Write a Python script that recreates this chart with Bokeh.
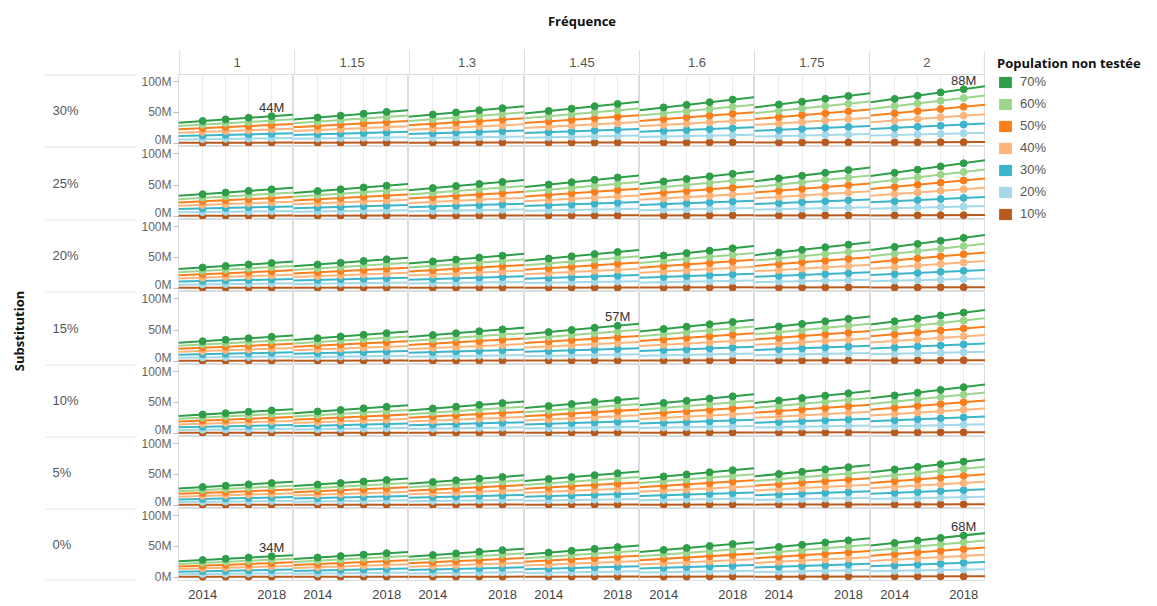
import numpy as np
from bokeh.plotting import figure
from bokeh.layouts import row, column
from bokeh.models import (Range1d, FixedTicker, LinearAxis, Grid, PrintfTickFormatter,
                          Legend, LegendItem)
from bokeh.core.properties import value
from bokeh.embed import file_html
from bokeh.resources import INLINE

# ---------------- data ----------------
frequences = ["1", "1.15", "1.3", "1.45", "1.6", "1.75", "2"]
substitutions = ["30%", "25%", "20%", "15%", "10%", "5%", "0%"]
populations = ["70%", "60%", "50%", "40%", "30%", "20%", "10%"]
periods = [0, 1, 2, 3]
period_labels = {0: "2014", 1: "", 2: "", 3: "2018"}

# profile of each series (millions) in the cell Substitution 0% / Fréquence 1
pop_70 = [27.9, 29.9, 32.0, 34.0]
pop_60 = [23.3, 25.0, 26.7, 28.4]
pop_50 = [18.8, 20.2, 21.5, 22.9]
pop_40 = [14.2, 15.2, 16.3, 17.3]
pop_30 = [9.6, 10.3, 11.0, 11.7]
pop_20 = [5.1, 5.5, 5.8, 6.2]
pop_10 = [0.5, 0.5, 0.6, 0.6]
profiles = [pop_70, pop_60, pop_50, pop_40, pop_30, pop_20, pop_10]

# last value of the 70% series in each cell (millions); rows = substitutions, cols = fréquences
cell_last = [
    [44, 51, 57, 64, 71, 77, 88],
    [43, 49, 55, 62, 68, 74, 85],
    [41, 47, 53, 59, 65, 71, 82],
    [39, 45, 51, 57, 63, 68, 78],
    [37, 43, 49, 54, 60, 65, 75],
    [36, 41, 46, 52, 57, 62, 71],
    [34, 39, 44, 49, 54, 60, 68],
]
labelled_cells = [(0, 0), (0, 6), (3, 3), (6, 0), (6, 6)]

colors = ["#2f9e48", "#9cd68d", "#fa7f1c", "#fdb57c", "#3cb4c9", "#a3d9e8", "#b85a1e"]

# ---------------- layout constants ----------------
FONT = "Liberation Sans"
BOLD = "Open Sans"
col_widths = [115, 115, 116, 115, 115, 116, 115]
row_heights = [72, 73, 72, 73, 72, 72, 72]
Y0, Y1 = -5.5, 112
X0, X1 = -1.05, 3.95
AXIS_W = 43
LABEL_W = 97
SUB_W = 38
LEG_W = 172
X_AXIS_H = 24
HDR_H = 74
SEP = "#dcdcdc"


def bare(width, height, xr, yr, **kw):
    p = figure(width=width, height=height, x_range=xr, y_range=yr,
               x_axis_location=None, y_axis_location=None,
               toolbar_location=None, output_backend="svg", min_border=0, **kw)
    p.xgrid.visible = False
    p.ygrid.visible = False
    p.background_fill_color = "white"
    p.border_fill_color = "white"
    return p


def cell(r, c):
    w = col_widths[c] + (AXIS_W if c == 0 else 0)
    h = row_heights[r] + (X_AXIS_H if r == 6 else 0)
    p = bare(w, h, Range1d(X0, X1), Range1d(Y0, Y1), outline_line_color=SEP)
    p.min_border_left = AXIS_W if c == 0 else 0
    p.min_border_bottom = X_AXIS_H if r == 6 else 0
    p.add_layout(Grid(dimension=0, ticker=FixedTicker(ticks=periods),
                      grid_line_color="#ebebeb", grid_line_width=1))
    if c == 0:
        ax = LinearAxis(ticker=FixedTicker(ticks=[0, 50, 100]),
                        formatter=PrintfTickFormatter(format="%dM"),
                        axis_line_color=None, major_tick_line_color="#bbbbbb",
                        major_tick_out=5, major_tick_in=0, minor_tick_line_color=None,
                        major_label_standoff=2, major_label_text_font=FONT,
                        major_label_text_font_size="12px", major_label_text_color="#666666")
        p.add_layout(ax, "left")
    if r == 6:
        ax = LinearAxis(ticker=FixedTicker(ticks=periods),
                        major_label_overrides=period_labels,
                        axis_line_color=None, major_tick_line_color=None,
                        minor_tick_line_color=None, major_label_standoff=3,
                        major_label_text_font=FONT, major_label_text_font_size="13px",
                        major_label_text_color="#444444")
        p.add_layout(ax, "below")
    scale = cell_last[r][c] / pop_70[-1]
    for k in range(len(populations) - 1, -1, -1):
        vals = [v * scale for v in profiles[k]]
        slope, inter = np.polyfit(periods, vals, 1)
        p.line([X0, X1], [inter + slope * X0, inter + slope * X1],
               line_color=colors[k], line_width=2)
        p.scatter(periods, vals, size=7, fill_color=colors[k], line_color=colors[k])
    if (r, c) in labelled_cells:
        top = pop_70[-1] * scale
        p.text(x=[periods[-1]], y=[top], text=[f"{round(top)}M"],
               text_align="center", text_baseline="middle", y_offset=-9,
               text_font=value(FONT), text_font_size="13px", text_color="#333333")
    return p


def row_label(r):
    rh = row_heights[r]
    h = rh + (X_AXIS_H if r == 6 else 0)
    p = bare(LABEL_W, h, Range1d(0, LABEL_W), Range1d(0, rh), outline_line_color=None)
    p.min_border_bottom = X_AXIS_H if r == 6 else 0
    p.text(x=[14], y=[rh / 2], text=[substitutions[r]], text_align="left",
           text_baseline="middle", text_font=value(FONT), text_font_size="13px",
           text_color="#555555")
    ys = [rh - 0.5] + ([0.5] if r == 6 else [])
    p.segment(x0=[7] * len(ys), y0=ys, x1=[LABEL_W] * len(ys), y1=ys,
              line_color=SEP, line_width=1)
    return p


# header with "Fréquence" and column headers
hdr = bare(LABEL_W + AXIS_W + sum(col_widths), HDR_H,
           Range1d(-0.01, len(frequences) + 0.01), Range1d(0, HDR_H), outline_line_color=None)
hdr.min_border_left = LABEL_W + AXIS_W
hdr.text(x=[len(frequences) / 2], y=[HDR_H - 20], text=["Fréquence"], text_align="center",
         text_baseline="middle", text_font=value(BOLD), text_font_style="bold",
         text_font_size="13px", text_color="#111111")
hdr.text(x=[i + 0.5 for i in range(len(frequences))], y=[12] * len(frequences),
         text=frequences, text_align="center", text_baseline="middle",
         text_font=value(FONT), text_font_size="13px", text_color="#555555")
hdr.segment(x0=list(range(len(frequences) + 1)), y0=[0] * (len(frequences) + 1),
            x1=list(range(len(frequences) + 1)), y1=[24] * (len(frequences) + 1),
            line_color=SEP, line_width=1)

TOTAL_H = HDR_H + sum(row_heights) + X_AXIS_H

# left vertical title
sub = bare(SUB_W, TOTAL_H, Range1d(0, SUB_W), Range1d(0, TOTAL_H), outline_line_color=None)
sub.text(x=[18], y=[TOTAL_H - 310], text=["Substitution"], angle=np.pi / 2,
         text_align="center", text_baseline="middle", text_font=value(BOLD),
         text_font_style="bold", text_font_size="13px", text_color="#111111")

# legend
leg = bare(LEG_W, 260, Range1d(0, 1), Range1d(0, 1), outline_line_color=None)
leg.min_border_top = 42
items = []
for k, pop in enumerate(populations):
    rr = leg.quad(left=[5], right=[6], top=[6], bottom=[5], fill_color=colors[k], line_color=None)
    items.append(LegendItem(label=pop, renderers=[rr]))
legend = Legend(items=items, location="top_left", margin=12, padding=0, spacing=7,
                glyph_height=14, glyph_width=16, label_height=14, label_standoff=7,
                title="Population non testée", title_text_font=BOLD,
                title_text_font_style="bold", title_text_font_size="13px",
                title_text_color="#111111", title_standoff=2,
                label_text_font=FONT, label_text_font_size="13px",
                label_text_color="#555555", border_line_color=None,
                background_fill_alpha=0)
leg.add_layout(legend, "center")

grid_rows = [row(row_label(r), *[cell(r, c) for c in range(len(frequences))])
             for r in range(len(substitutions))]
main = column(hdr, *grid_rows)
layout = row(sub, main, leg)

open("out.html", "w").write(file_html(layout, INLINE))
